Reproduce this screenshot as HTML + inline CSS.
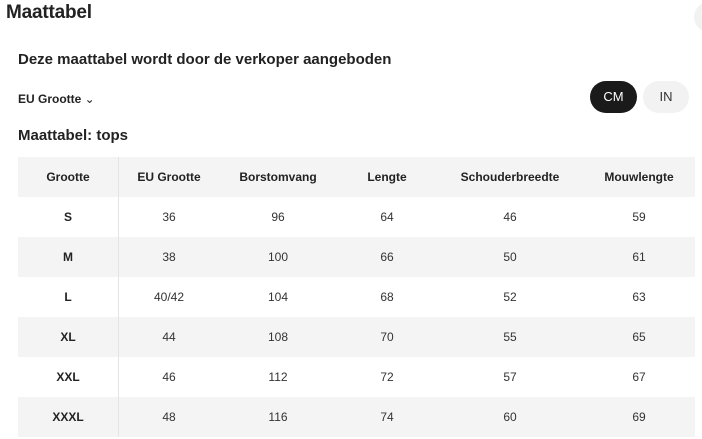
<!DOCTYPE html>
<html><head><meta charset="utf-8"><style>
*{margin:0;padding:0;box-sizing:border-box}
body{width:702px;height:439px;background:#fff;font-family:"Liberation Sans",sans-serif;color:#222;position:relative;overflow:hidden}
.a{position:absolute;white-space:nowrap}
.row{position:absolute;left:18px;width:677px;height:40px}
.c{position:absolute;transform:translateX(-50%);font-size:12px;line-height:40px;color:#333}
.b{font-weight:bold;color:#222}
</style></head><body>
<div class="a" style="left:6px;top:2px;font-size:19px;font-weight:bold;letter-spacing:-0.2px">Maattabel</div>
<div class="a" style="left:694px;top:2px;width:30px;height:30px;border-radius:50%;background:#f2f2f2"></div>
<div class="a" style="left:18px;top:51px;font-size:15px;font-weight:bold">Deze maattabel wordt door de verkoper aangeboden</div>
<div class="a" style="left:18px;top:92px;font-size:12px;font-weight:bold">EU Grootte <span style="font-weight:normal">&#8964;</span></div>
<div class="a" style="left:590px;top:81px;width:47px;height:32px;border-radius:16px;background:#1a1a1a;color:#fff;font-size:13px;line-height:32px;text-align:center">CM</div>
<div class="a" style="left:643px;top:81px;width:46px;height:32px;border-radius:16px;background:#f2f2f2;color:#333;font-size:13px;line-height:32px;text-align:center">IN</div>
<div class="a" style="left:18px;top:127px;font-size:15px;font-weight:bold">Maattabel: tops</div>

<div class="row" style="top:157px;background:#f4f4f4">
<span class="c b" style="left:50px">Grootte</span><span class="c b" style="left:151px">EU Grootte</span><span class="c b" style="left:260px">Borstomvang</span><span class="c b" style="left:369px">Lengte</span><span class="c b" style="left:492px">Schouderbreedte</span><span class="c b" style="left:621px">Mouwlengte</span></div>
<div class="row" style="top:197px"><span class="c b" style="left:50px">S</span><span class="c" style="left:151px">36</span><span class="c" style="left:260px">96</span><span class="c" style="left:369px">64</span><span class="c" style="left:492px">46</span><span class="c" style="left:621px">59</span></div>
<div class="row" style="top:237px;background:#f4f4f4"><span class="c b" style="left:50px">M</span><span class="c" style="left:151px">38</span><span class="c" style="left:260px">100</span><span class="c" style="left:369px">66</span><span class="c" style="left:492px">50</span><span class="c" style="left:621px">61</span></div>
<div class="row" style="top:277px"><span class="c b" style="left:50px">L</span><span class="c" style="left:151px">40/42</span><span class="c" style="left:260px">104</span><span class="c" style="left:369px">68</span><span class="c" style="left:492px">52</span><span class="c" style="left:621px">63</span></div>
<div class="row" style="top:317px;background:#f4f4f4"><span class="c b" style="left:50px">XL</span><span class="c" style="left:151px">44</span><span class="c" style="left:260px">108</span><span class="c" style="left:369px">70</span><span class="c" style="left:492px">55</span><span class="c" style="left:621px">65</span></div>
<div class="row" style="top:357px"><span class="c b" style="left:50px">XXL</span><span class="c" style="left:151px">46</span><span class="c" style="left:260px">112</span><span class="c" style="left:369px">72</span><span class="c" style="left:492px">57</span><span class="c" style="left:621px">67</span></div>
<div class="row" style="top:397px;background:#f4f4f4"><span class="c b" style="left:50px">XXXL</span><span class="c" style="left:151px">48</span><span class="c" style="left:260px">116</span><span class="c" style="left:369px">74</span><span class="c" style="left:492px">60</span><span class="c" style="left:621px">69</span></div>
<div class="a" style="left:118px;top:157px;width:1px;height:280px;background:#e4e4e4"></div>
</body></html>
